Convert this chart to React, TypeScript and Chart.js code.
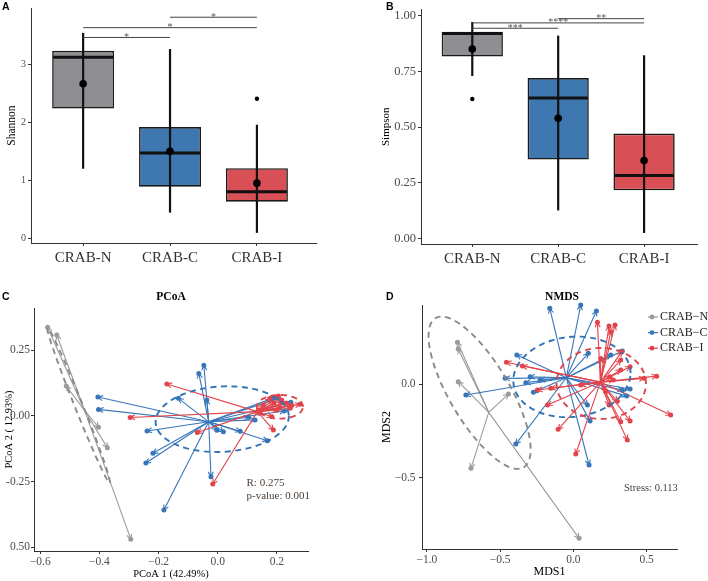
import React, { useEffect, useRef } from 'react';
import { Chart, registerables } from 'chart.js';
Chart.register(...registerables);

const SERIF = "'Liberation Serif', 'Times New Roman', serif";
const SANS = "'Liberation Sans', Arial, sans-serif";
Chart.defaults.font.family = SERIF;

// ---------- data ----------
const groups = ['CRAB-N', 'CRAB-C', 'CRAB-I'];
const legendLabels = ['CRAB−N', 'CRAB−C', 'CRAB−I'];
const boxFills = ['#8f8f93', '#3f78b1', '#d84f55'];
const ordColors = ['#9b9b9b', '#3676b9', '#e3444b'];

// Panel A: Shannon
const shannonQ1 = [2.24, 0.89, 0.63];
const shannonQ3 = [3.24, 1.92, 1.21];
const shannonMedian = [3.13, 1.47, 0.8];
const shannonLow = [1.2, 0.44, 0.09];
const shannonHigh = [3.55, 3.27, 1.96];
const shannonMean = [2.67, 1.5, 0.95];
const shannonOutliers = [[], [], [2.41]];
const shannonSig = [
  { a: 0, b: 1, y: 3.47, label: '*' },
  { a: 0, b: 2, y: 3.64, label: '*' },
  { a: 1, b: 2, y: 3.82, label: '*' },
];
const shannonTicks = [0, 1, 2, 3];
const shannonTickLabels = ['0', '1', '2', '3'];

// Panel B: Simpson
const simpsonQ1 = [0.816, 0.355, 0.217];
const simpsonQ3 = [0.927, 0.72, 0.471];
const simpsonMedian = [0.92, 0.63, 0.283];
const simpsonLow = [0.729, 0.127, 0.026];
const simpsonHigh = [0.971, 0.91, 0.822];
const simpsonMean = [0.85, 0.54, 0.35];
const simpsonOutliers = [[0.626], [], []];
const simpsonSig = [
  { a: 0, b: 1, y: 0.943, label: '***' },
  { a: 0, b: 2, y: 0.967, label: '****' },
  { a: 1, b: 2, y: 0.986, label: '**' },
];
const simpsonTicks = [0, 0.25, 0.5, 0.75, 1];
const simpsonTickLabels = ['0.00', '0.25', '0.50', '0.75', '1.00'];

// Panel C: PCoA
const pcoaGray = [
  [-0.575, 0.338], [-0.544, 0.308], [-0.512, 0.114], [-0.403, -0.043], [-0.373, -0.121], [-0.294, -0.469],
];
const pcoaBlue = [
  [-0.405, 0.072], [-0.403, 0.025], [-0.239, -0.057], [-0.219, -0.142], [-0.243, -0.179], [-0.182, -0.358],
  [-0.047, 0.193], [-0.064, 0.162], [-0.133, 0.067], [-0.037, 0.061], [-0.023, -0.231], [-0.003, -0.054],
  [0.019, -0.06], [0.076, -0.058], [0.168, -0.094], [0.247, 0.052], [0.225, 0.019], [0.205, 0.067],
  [0.126, -0.015], [0.104, -0.005], [0.186, 0.067],
];
const pcoaRed = [
  [-0.172, 0.122], [-0.296, -0.006], [-0.069, -0.063], [-0.017, -0.259], [0.188, -0.053], [0.278, 0.045],
  [0.205, 0.076], [0.177, 0.067], [0.216, 0.061], [0.233, 0.048], [0.154, 0.042], [0.138, 0.023],
  [0.2, 0.023], [0.245, 0.029], [0.183, -0.003], [0.143, 0.01], [0.22, 0.05], [0.25, 0.04], [0.19, 0.05], [0.21, 0.03],
];
const pcoaEllipses = [
  { c: [-0.47, 0.04], u: [0.105, -0.295], v: [0.0125, 0.006] },
  { c: [0.015, -0.012], u: [0.225, 0.015], v: [-0.008, 0.124] },
  { c: [0.21, 0.035], u: [0.078, 0.0], v: [0.0, 0.045] },
];
const pcoaXTicks = [-0.6, -0.4, -0.2, 0, 0.2];
const pcoaXLabels = ['−0.6', '−0.4', '−0.2', '0.0', '0.2'];
const pcoaYTicks = [0.25, 0, -0.25, -0.5];
const pcoaYLabels = ['0.25', '0.00', '-0.25', '0.50'];

// Panel D: NMDS
const nmdsGray = [
  [-0.791, 0.225], [-0.786, 0.189], [-0.786, 0.014], [-0.443, -0.052], [-0.699, -0.45], [0.039, -0.825],
];
const nmdsBlue = [
  [-0.161, 0.407], [0.05, 0.425], [0.157, 0.393], [-0.386, 0.157], [-0.466, 0.032], [-0.734, -0.057],
  [-0.325, 0.009], [-0.273, -0.043], [-0.393, -0.32], [0.096, -0.111], [0.114, -0.197], [0.107, -0.432],
  [0.255, 0.157], [0.364, -0.063], [0.387, -0.025], [0.334, -0.031], [0.334, 0.178], [0.102, 0.166],
  [-0.227, 0.023], [-0.295, 0.041],
];
const nmdsRed = [
  [-0.457, 0.118], [-0.348, 0.098], [-0.177, -0.111], [-0.104, -0.241], [0.016, -0.373], [0.164, 0.332],
  [0.243, 0.312], [0.284, 0.318], [0.255, 0.282], [0.568, 0.044], [0.664, -0.164], [0.368, -0.298],
  [0.323, -0.2], [0.387, -0.197], [0.243, -0.111], [0.482, 0.032], [-0.245, -0.03], [-0.154, -0.021],
  [0.187, 0.139], [0.323, 0.077], [0.323, 0.13], [0.05, -0.004], [0.25, 0.041], [0.273, 0.023],
  [0.33, 0.175], [0.387, 0.094], [0.22, -0.04], [0.3, -0.09],
];
const nmdsEllipses = [
  { c: [-0.64, -0.045], u: [0.3, -0.4], v: [0.177, 0.08] },
  { c: [-0.01, 0.04], u: [0.4, 0.02], v: [0.0, 0.215] },
  { c: [0.19, 0.005], u: [0.305, 0.0], v: [0.0, 0.19] },
];
const nmdsXTicks = [-1, -0.5, 0, 0.5];
const nmdsXLabels = ['−1.0', '−0.5', '0.0', '0.5'];
const nmdsYTicks = [0, -0.5];
const nmdsYLabels = ['0.0', '−0.5'];

// ---------- helpers ----------
const AXIS = '#333333';
const TICKTXT = '#4d4d4d';
const NOTE = '#4b3e34';

function drawLetter(ctx: CanvasRenderingContext2D, letter: string, x: number) {
  ctx.save();
  ctx.fillStyle = '#000';
  ctx.font = `bold 10.5px ${SANS}`;
  ctx.textAlign = 'left';
  ctx.textBaseline = 'alphabetic';
  ctx.fillText(letter, x, 10);
  ctx.restore();
}

function boxConfig(s: any): any {
  const plugin = {
    id: 'boxExtras',
    afterDatasetDraw(chart: any, args: any) {
      if (args.index !== 0) return;
      const ctx = chart.ctx;
      const xs = chart.scales.x;
      const ys = chart.scales.y;
      const meta = chart.getDatasetMeta(0);
      ctx.save();
      ctx.strokeStyle = '#111';
      groups.forEach((_, i) => {
        const el: any = meta.data[i];
        const cx = xs.getPixelForValue(i + 1);
        const w = el.width;
        ctx.lineWidth = 2.2;
        ctx.beginPath();
        ctx.moveTo(cx, ys.getPixelForValue(s.lo[i]));
        ctx.lineTo(cx, ys.getPixelForValue(s.hi[i]));
        ctx.stroke();
        ctx.lineWidth = 3;
        const my = ys.getPixelForValue(s.med[i]);
        ctx.beginPath();
        ctx.moveTo(cx - w / 2 + 1, my);
        ctx.lineTo(cx + w / 2 - 1, my);
        ctx.stroke();
      });
      ctx.restore();
    },
    afterDraw(chart: any) {
      const ctx = chart.ctx;
      const xs = chart.scales.x;
      const ys = chart.scales.y;
      ctx.save();
      s.sig.forEach((g: any) => {
        const x0 = xs.getPixelForValue(g.a + 1);
        const x1 = xs.getPixelForValue(g.b + 1);
        const yy = ys.getPixelForValue(g.y);
        ctx.strokeStyle = '#444';
        ctx.lineWidth = 1;
        ctx.beginPath();
        ctx.moveTo(x0, yy);
        ctx.lineTo(x1, yy);
        ctx.stroke();
        ctx.fillStyle = '#555';
        ctx.font = `10px ${SERIF}`;
        ctx.textAlign = 'center';
        ctx.textBaseline = 'alphabetic';
        ctx.fillText(g.label, (x0 + x1) / 2, yy + 2.5);
      });
      ctx.restore();
      drawLetter(ctx, s.letter, s.letterX);
    },
  };
  return {
    type: 'bar',
    data: {
      datasets: [
        {
          type: 'bar',
          data: groups.map((_, i) => ({ x: i + 1, y: [s.q1[i], s.q3[i]] })),
          backgroundColor: boxFills,
          borderColor: '#1a1a1a',
          borderWidth: 1.6,
          borderSkipped: false,
          barPercentage: 0.713,
          categoryPercentage: 1,
          order: 2,
        },
        {
          type: 'scatter',
          data: groups.map((_, i) => ({ x: i + 1, y: s.mean[i] })),
          pointRadius: 3.8,
          pointBackgroundColor: '#000',
          pointBorderWidth: 0,
          order: 1,
        },
        {
          type: 'scatter',
          data: s.out.flatMap((arr: number[], i: number) => arr.map((v) => ({ x: i + 1, y: v }))),
          pointRadius: 2.2,
          pointBackgroundColor: '#000',
          pointBorderWidth: 0,
          order: 1,
        },
      ],
    },
    options: {
      responsive: false,
      animation: false,
      events: [],
      layout: { padding: { left: 0, right: s.padRight, top: s.padTop, bottom: 0 } },
      plugins: { legend: { display: false }, tooltip: { enabled: false } },
      scales: {
        x: {
          type: 'linear',
          min: s.xMin,
          max: s.xMax,
          offset: false,
          afterFit: (sc: any) => { sc.height = s.xAxisH; },
          afterBuildTicks: (sc: any) => { sc.ticks = groups.map((_, i) => ({ value: i + 1 })); },
          ticks: {
            callback: (_v: any, i: number) => groups[i],
            font: { family: SERIF, size: 15 },
            color: AXIS,
            padding: 3,
            maxRotation: 0,
            autoSkip: false,
          },
          grid: { drawOnChartArea: false, tickLength: 3, color: AXIS, offset: false },
          border: { color: AXIS, width: 1 },
        },
        y: {
          type: 'linear',
          min: s.yMin,
          max: s.yMax,
          afterFit: (sc: any) => { sc.width = s.yAxisW; },
          afterBuildTicks: (sc: any) => { sc.ticks = s.yTicks.map((v: number) => ({ value: v })); },
          ticks: {
            callback: (_v: any, i: number) => s.yLabels[i],
            font: { family: SERIF, size: s.tickFont },
            color: TICKTXT,
            padding: 2,
          },
          grid: { drawOnChartArea: false, tickLength: 3, color: AXIS },
          border: { color: AXIS, width: 1 },
          title: {
            display: true,
            text: s.yTitle,
            font: { family: SERIF, size: s.titleFont },
            color: '#000',
            padding: { top: s.titlePad, bottom: 0 },
          },
        },
      },
    },
    plugins: [plugin],
  };
}

function mean(pts: number[][], k: number) {
  return pts.reduce((a, p) => a + p[k], 0) / pts.length;
}

function ordConfig(o: any): any {
  const plugin = {
    id: 'ordExtras',
    beforeDatasetsDraw(chart: any) {
      const ctx = chart.ctx;
      const xs = chart.scales.x;
      const ys = chart.scales.y;
      ctx.save();
      ctx.lineWidth = 1.1;
      o.pts.forEach((pts: number[][], g: number) => {
        const cx = xs.getPixelForValue(mean(pts, 0));
        const cy = ys.getPixelForValue(mean(pts, 1));
        ctx.strokeStyle = ordColors[g];
        pts.forEach((p) => {
          const x1 = xs.getPixelForValue(p[0]);
          const y1 = ys.getPixelForValue(p[1]);
          const a = Math.atan2(y1 - cy, x1 - cx);
          const head = 5.5;
          const phi = Math.PI / 6.5;
          ctx.beginPath();
          ctx.moveTo(cx, cy);
          ctx.lineTo(x1, y1);
          ctx.moveTo(x1 - head * Math.cos(a - phi), y1 - head * Math.sin(a - phi));
          ctx.lineTo(x1, y1);
          ctx.lineTo(x1 - head * Math.cos(a + phi), y1 - head * Math.sin(a + phi));
          ctx.stroke();
        });
      });
      ctx.restore();
    },
    afterDatasetsDraw(chart: any) {
      const ctx = chart.ctx;
      const xs = chart.scales.x;
      const ys = chart.scales.y;
      ctx.save();
      ctx.lineWidth = 1.9;
      ctx.setLineDash([6, 4.5]);
      o.ell.forEach((e: any, g: number) => {
        ctx.strokeStyle = g === 0 ? '#8a8a8a' : g === 1 ? '#2f72b5' : '#e0444b';
        ctx.beginPath();
        for (let k = 0; k <= 120; k++) {
          const t = (k / 120) * Math.PI * 2;
          const vx = e.c[0] + e.u[0] * Math.cos(t) + e.v[0] * Math.sin(t);
          const vy = e.c[1] + e.u[1] * Math.cos(t) + e.v[1] * Math.sin(t);
          const px = xs.getPixelForValue(vx);
          const py = ys.getPixelForValue(vy);
          if (k === 0) ctx.moveTo(px, py); else ctx.lineTo(px, py);
        }
        ctx.stroke();
      });
      ctx.restore();
    },
    afterDraw(chart: any) {
      const ctx = chart.ctx;
      ctx.save();
      ctx.fillStyle = '#000';
      ctx.font = `bold 11.5px ${SERIF}`;
      ctx.textAlign = 'center';
      ctx.textBaseline = 'middle';
      ctx.fillText(o.title, o.titleX, 7.5);
      ctx.font = `${o.noteFont}px ${SERIF}`;
      ctx.fillStyle = NOTE;
      ctx.textAlign = 'left';
      o.notes.forEach((n: any) => ctx.fillText(n.text, n.x, n.y));
      if (o.legend) {
        legendLabels.forEach((lab, i) => {
          const y = 27 + i * 15.6;
          ctx.strokeStyle = ordColors[i];
          ctx.lineWidth = 1.2;
          ctx.beginPath();
          ctx.moveTo(294, y);
          ctx.lineTo(304, y);
          ctx.stroke();
          ctx.fillStyle = ordColors[i];
          ctx.beginPath();
          ctx.arc(298, y, 2.4, 0, Math.PI * 2);
          ctx.fill();
          ctx.fillStyle = '#222';
          ctx.font = `12px ${SERIF}`;
          ctx.fillText(lab, 306, y);
        });
      }
      ctx.restore();
      drawLetter(ctx, o.letter, o.letterX);
    },
  };
  const order = [3, 2, 1];
  return {
    type: 'scatter',
    data: {
      datasets: o.pts.map((pts: number[][], g: number) => ({
        data: pts.map((p) => ({ x: p[0], y: p[1] })),
        pointRadius: 2.5,
        pointBackgroundColor: ordColors[g],
        pointBorderWidth: 0,
        showLine: false,
        order: order[g],
        clip: false,
      })),
    },
    options: {
      responsive: false,
      animation: false,
      events: [],
      layout: { padding: { left: 0, right: o.padRight, top: o.padTop, bottom: 0 } },
      plugins: { legend: { display: false }, tooltip: { enabled: false } },
      scales: {
        x: {
          type: 'linear',
          min: o.xMin,
          max: o.xMax,
          afterFit: (sc: any) => { sc.height = o.xAxisH; },
          afterBuildTicks: (sc: any) => { sc.ticks = o.xTicks.map((v: number) => ({ value: v })); },
          ticks: {
            callback: (_v: any, i: number) => o.xLabels[i],
            font: { family: SERIF, size: o.tickFont },
            color: TICKTXT,
            padding: 1,
            maxRotation: 0,
            autoSkip: false,
          },
          grid: { drawOnChartArea: false, tickLength: 3, color: AXIS },
          border: { color: AXIS, width: 1 },
          title: {
            display: true,
            text: o.xTitle,
            font: { family: SERIF, size: o.titleFont },
            color: '#000',
            padding: { top: 0, bottom: o.xTitlePad },
          },
        },
        y: {
          type: 'linear',
          min: o.yMin,
          max: o.yMax,
          afterFit: (sc: any) => { sc.width = o.yAxisW; },
          afterBuildTicks: (sc: any) => { sc.ticks = o.yTicks.map((v: number) => ({ value: v })); },
          ticks: {
            callback: (_v: any, i: number) => o.yLabels[i],
            font: { family: SERIF, size: o.tickFont },
            color: TICKTXT,
            padding: o.yTickPad,
          },
          grid: { drawOnChartArea: false, tickLength: 3, color: AXIS },
          border: { color: AXIS, width: 1 },
          title: {
            display: true,
            text: o.yTitle,
            font: { family: SERIF, size: o.titleFont },
            color: '#000',
            padding: { top: o.yTitlePad, bottom: 0 },
          },
        },
      },
    },
    plugins: [plugin],
  };
}

const specA = {
  q1: shannonQ1, q3: shannonQ3, med: shannonMedian, lo: shannonLow, hi: shannonHigh, mean: shannonMean,
  out: shannonOutliers, sig: shannonSig, yTicks: shannonTicks, yLabels: shannonTickLabels,
  yMin: -0.085, yMax: 3.98, xMin: 0.4, xMax: 3.68,
  yTitle: 'Shannon', tickFont: 10, titleFont: 11.5, titlePad: 5.5,
  yAxisW: 31, xAxisH: 47, padRight: 38, padTop: 2, letter: 'A', letterX: 2,
};
const specB = {
  q1: simpsonQ1, q3: simpsonQ3, med: simpsonMedian, lo: simpsonLow, hi: simpsonHigh, mean: simpsonMean,
  out: simpsonOutliers, sig: simpsonSig, yTicks: simpsonTicks, yLabels: simpsonTickLabels,
  yMin: -0.0235, yMax: 1.027, xMin: 0.403, xMax: 3.616,
  yTitle: 'Simpson', tickFont: 12.5, titleFont: 11, titlePad: 25.5,
  yAxisW: 67, xAxisH: 46, padRight: 11, padTop: 2, letter: 'B', letterX: 32,
};
const specC = {
  pts: [pcoaGray, pcoaBlue, pcoaRed], ell: pcoaEllipses,
  xMin: -0.621, xMax: 0.305, yMin: -0.514, yMax: 0.411,
  xTicks: pcoaXTicks, xLabels: pcoaXLabels, yTicks: pcoaYTicks, yLabels: pcoaYLabels,
  xTitle: 'PCoA 1 (42.49%)', yTitle: 'PCoA 2 ( 12.93%)', titleFont: 10.5, tickFont: 11.5,
  yTickPad: 1, yTitlePad: 2.5, xTitlePad: 0.5,
  padTop: 18, padRight: 46, yAxisW: 34, xAxisH: 30,
  title: 'PCoA', titleX: 171, letter: 'C', letterX: 2,
  notes: [{ text: 'R: 0.275', x: 246.5, y: 192.7 }, { text: 'p-value: 0.001', x: 246.5, y: 206 }], noteFont: 11,
  legend: false,
};
const specD = {
  pts: [nmdsGray, nmdsBlue, nmdsRed], ell: nmdsEllipses,
  xMin: -1.033, xMax: 0.707, yMin: -0.882, yMax: 0.425,
  xTicks: nmdsXTicks, xLabels: nmdsXLabels, yTicks: nmdsYTicks, yLabels: nmdsYLabels,
  xTitle: 'MDS1', yTitle: 'MDS2', titleFont: 12, tickFont: 11.5,
  yTickPad: 3.5, yTitlePad: 26, xTitlePad: 2,
  padTop: 15, padRight: 31, yAxisW: 68, xAxisH: 32,
  title: 'NMDS', titleX: 208, letter: 'D', letterX: 32,
  notes: [{ text: 'Stress: 0.113', x: 270, y: 198.3 }], noteFont: 10.5,
  legend: true,
};

function ChartBox({ x, y, w, h, build }: any) {
  const ref = useRef<HTMLCanvasElement>(null);
  useEffect(() => {
    const c = new Chart(ref.current as HTMLCanvasElement, build());
    return () => c.destroy();
  }, []);
  return (
    <canvas
      ref={ref}
      width={w}
      height={h}
      style={{ position: 'absolute', left: x, top: y, width: w, height: h, display: 'block' }}
    />
  );
}

export default function App() {
  return (
    <div style={{ position: 'fixed', left: 0, top: 0, width: 708, height: 581, background: '#fff', overflow: 'hidden' }}>
      <ChartBox x={0} y={0} w={354} h={290} build={() => boxConfig(specA)} />
      <ChartBox x={354} y={0} w={354} h={290} build={() => boxConfig(specB)} />
      <ChartBox x={0} y={290} w={354} h={291} build={() => ordConfig(specC)} />
      <ChartBox x={354} y={290} w={354} h={291} build={() => ordConfig(specD)} />
    </div>
  );
}
